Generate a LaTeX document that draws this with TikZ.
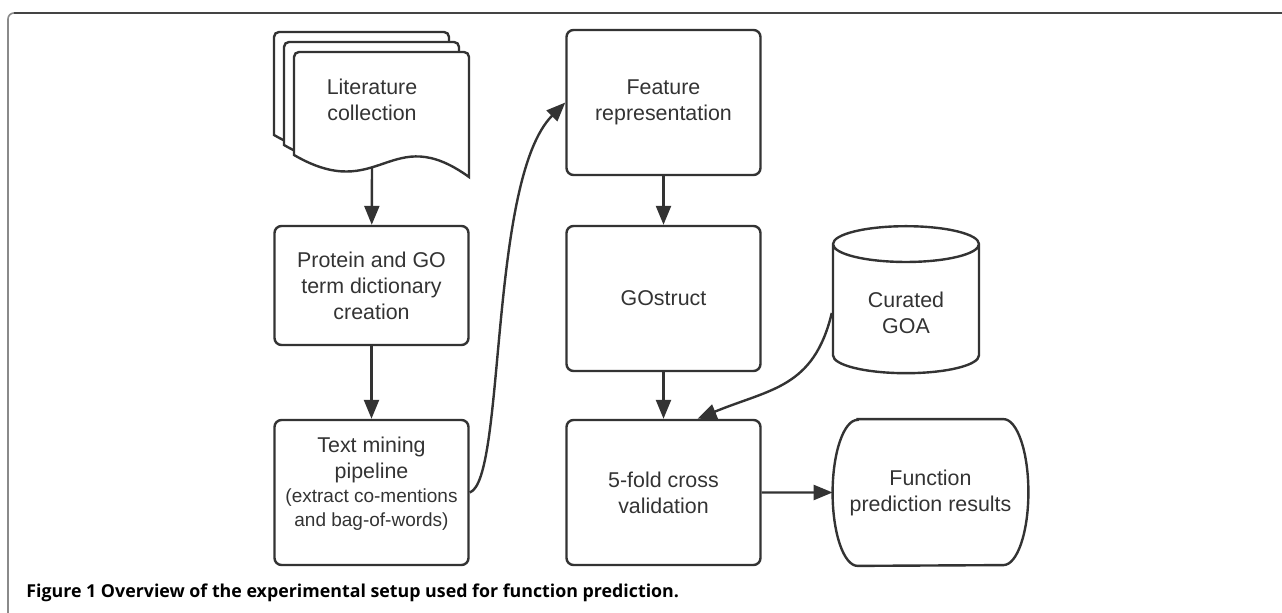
\documentclass[tikz,border=0pt]{standalone}
\usepackage{fontspec}
\setmainfont{Liberation Sans}
\newfontfamily\capfont{Open Sans}
\usetikzlibrary{positioning,shapes.geometric,arrows.meta}
\definecolor{inkgray}{HTML}{333333}
\definecolor{framedark}{HTML}{444444}
\definecolor{framelight}{HTML}{8A8A8A}
\begin{document}
\begin{tikzpicture}[%
		x=0.5pt,
		y=-0.5pt,
		>={Triangle[length=9.5pt,width=7.5pt]},
		node distance=25pt,
		line/.style={%
			draw=inkgray,
			line width=1.2pt
		},
		flow/.style={%
			line,
			->
		},
		label/.style={%
			text=inkgray,
			align=center,
			font=\fontsize{10.7}{13}\selectfont
		},
		box/.style={%
			label,
			line,
			rounded corners=3.5pt,
			minimum width=97pt,
			minimum height=72.5pt,
			inner sep=2pt
		},
		sheet/.style={%
			line,
			fill=white,
			rounded corners=2.5pt
		}
		]
		\useasboundingbox (0,0) rectangle (1282,613);
		% frame
		\draw[framelight, line width=0.8pt] (8,613) -- (8,19) arc[start angle=180, end angle=90, radius=3pt];
		\draw[framedark, line width=1pt] (14,13) -- (1282,13);
		
		% stack of papers
		\foreach \d in {20,10,0}
		\draw[sheet, shift={(-\d,-\d)}] (294,155) -- (294,52) -- (469,52) [sharp corners] -- (469,177)
		.. controls (390,120) and (380,205) .. (294,155) -- cycle;
		\node[label] (lit) at (372,100) {Literature\\collection};
		\coordinate (litbot) at (372,167);
		
		\node[box, minimum height=59.5pt] (prot) at (371.5,285.5) {Protein and GO\\term dictionary\\creation};
		\node[box] (tmine) [below=36.3pt of prot] {Text mining\\pipeline\\[-1pt]
			{\fontsize{9.5}{11.5}\selectfont (extract co-mentions}\\[-1pt]
			{\fontsize{9.5}{11.5}\selectfont and bag-of-words)}\\[-2pt]\mbox{}};
		
		\node[box] (feat) at (663.5,102.5)                            {Feature\\representation};
		\node[box] (gostr) [below=24.3pt of feat]                     {GOstruct};
		\node[box] (cv) [below=23.3pt of gostr]                       {5-fold cross\\validation};
		
		\node[label, line, cylinder, shape border rotate=90, aspect=0.4, anchor=north,
			minimum width=73pt, minimum height=73.5pt] (goa) at (906,225) {Curated\\GOA};
		
		\node[label, minimum width=97.5pt, minimum height=73pt] (res) at (930.5,492.5) {Function\\prediction results};
		\draw[line] ([xshift=12.5pt]res.north west) -- ([xshift=-12.5pt]res.north east)
		arc[start angle=90, end angle=-90, x radius=12.5pt, y radius=36.5pt]
		-- ([xshift=12.5pt]res.south west)
		arc[start angle=270, end angle=90, x radius=12.5pt, y radius=36.5pt] -- cycle;
		
		\draw[flow] (litbot) -- (prot);
		\draw[flow] (prot) -- (tmine);
		\draw[flow] (tmine.east) .. controls +(36,-12) and +(-77,77) .. (feat.west);
		\draw[flow] (feat) -- (gostr);
		\draw[flow] (gostr) -- (cv);
		\draw[flow] (goa.west) .. controls +(-18,75) and +(73,-30) .. ([xshift=17pt]cv.north);
		\draw[flow] (cv.east) -- (res.west);
		
		\node[anchor=base west, inner sep=0pt, text=black,
			font=\capfont\bfseries\fontsize{8.9}{10}\selectfont] (cap) at (26,598)
			{Figure 1 Overview of the experimental setup used for function prediction.};
		\end{tikzpicture}
\end{document}
